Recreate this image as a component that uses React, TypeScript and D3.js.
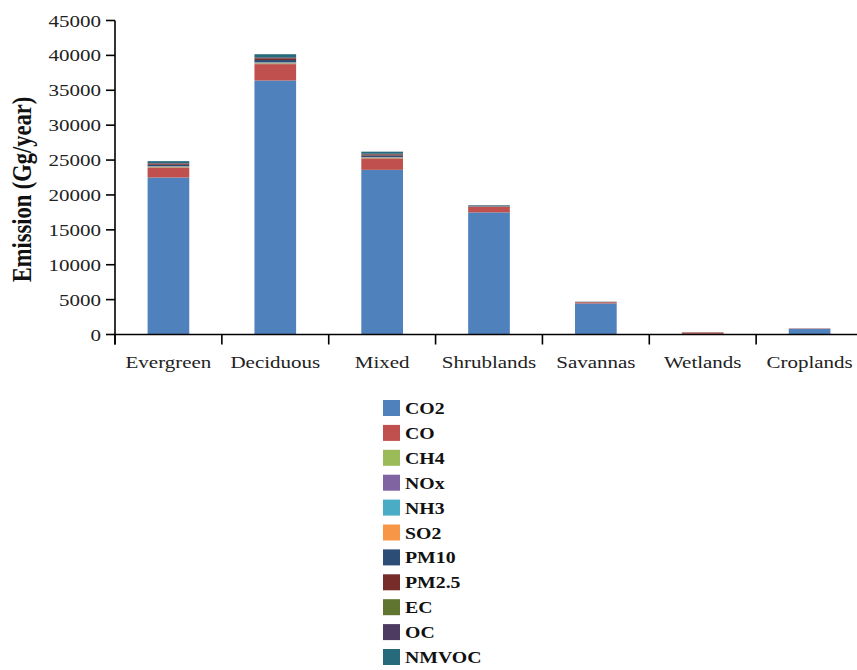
import React from "react";
import * as d3 from "d3";

const categories = ["Evergreen", "Deciduous", "Mixed", "Shrublands", "Savannas", "Wetlands", "Croplands"];
const seriesKeys = ["CO2", "CO", "CH4", "NOx", "NH3", "SO2", "PM10", "PM2.5", "EC", "OC", "NMVOC"];
const seriesColors = ["#4F81BD", "#C0504D", "#9BBB59", "#8064A2", "#4BACC6", "#F79646", "#2C4D75", "#772C2A", "#5F7530", "#4D3B62", "#276A7C"];

const CO2 = [22500, 36400, 23600, 17500, 4450, 90, 800];
const CO = [1450, 2350, 1650, 780, 180, 200, 50];
const CH4 = [80, 120, 85, 30, 10, 15, 3];
const NOx = [60, 90, 65, 25, 8, 3, 2];
const NH3 = [20, 30, 22, 8, 3, 2, 1];
const SO2 = [12, 20, 13, 5, 2, 1, 1];
const PM10 = [200, 330, 210, 60, 15, 10, 5];
const PM25 = [160, 250, 170, 45, 12, 8, 4];
const EC = [12, 20, 13, 4, 1, 1, 1];
const OC = [70, 110, 75, 20, 5, 3, 2];
const NMVOC = [280, 450, 300, 70, 15, 10, 6];

const seriesValues = [CO2, CO, CH4, NOx, NH3, SO2, PM10, PM25, EC, OC, NMVOC];
const yTicks = [0, 5000, 10000, 15000, 20000, 25000, 30000, 35000, 40000, 45000];

const W = 857;
const H = 670;
const SX = 1.2;
const FONT = "'Liberation Serif', 'Times New Roman', serif";

export default function App() {
  const rows = categories.map((c, i) => {
    const r: any = { cat: c };
    seriesKeys.forEach((k, j) => (r[k] = seriesValues[j][i]));
    return r;
  });
  const stacked = d3.stack().keys(seriesKeys)(rows);

  const x = d3.scaleBand().domain(categories).range([115, 863]).padding(0);
  const y = d3.scaleLinear().domain([0, 45000]).range([334.5, 20.5]);
  const barW = x.bandwidth() * 0.39;
  const x0 = 115;
  const y0 = y(0);

  const bounds = categories.map((c) => x(c) as number);
  bounds.push(863);

  return (
    <svg width={W} height={H} style={{ position: "absolute", left: 0, top: 0, background: "#fff" }} fontFamily={FONT}>
      <rect width={W} height={H} fill="#fff" />
      {stacked.map((s, si) => (
        <g key={s.key} fill={seriesColors[si]}>
          {s.map((d, i) => (
            <rect
              key={i}
              x={(x(categories[i]) as number) + (x.bandwidth() - barW) / 2}
              width={barW}
              y={y(d[1])}
              height={Math.max(0, y(d[0]) - y(d[1]))}
            />
          ))}
        </g>
      ))}
      {/* Y axis */}
      <line x1={x0} x2={x0} y1={y(45000)} y2={y0 + 10} stroke="#000" strokeWidth={1.6} />
      {yTicks.map((t) => (
        <g key={t}>
          <line x1={x0 - 9} x2={x0} y1={y(t)} y2={y(t)} stroke="#000" strokeWidth={1.6} />
          <text
            transform={`translate(${x0 - 14},${y(t) + 6}) scale(${SX},1)`}
            textAnchor="end"
            fontSize={17.5}
            fill="#222"
          >
            {t}
          </text>
        </g>
      ))}
      {/* X axis */}
      <line x1={x0} x2={W} y1={y0} y2={y0} stroke="#000" strokeWidth={1.6} />
      {bounds.map((b, i) => (
        <line key={i} x1={b} x2={b} y1={y0} y2={y0 + 10} stroke="#000" strokeWidth={1.6} />
      ))}
      {categories.map((c) => (
        <text
          key={c}
          transform={`translate(${(x(c) as number) + x.bandwidth() / 2},${y0 + 33}) scale(${SX},1)`}
          textAnchor="middle"
          fontSize={17.5}
          fill="#222"
        >
          {c}
        </text>
      ))}
      {/* Y title */}
      <text
        transform={`translate(31,${(y(45000) + y0) / 2 + 12}) rotate(-90) scale(1,${SX})`}
        textAnchor="middle"
        fontSize={22.5}
        fontWeight="bold"
        fill="#111"
      >
        Emission (Gg/year)
      </text>
      {/* Legend */}
      {seriesKeys.map((k, i) => {
        const top = 400 + i * 24.9;
        return (
          <g key={k}>
            <rect x={383} y={top} width={17} height={16} fill={seriesColors[i]} />
            <text
              transform={`translate(405,${top + 14}) scale(${SX},1)`}
              fontSize={16.5}
              fontWeight="bold"
              fill="#111"
            >
              {k}
            </text>
          </g>
        );
      })}
    </svg>
  );
}
